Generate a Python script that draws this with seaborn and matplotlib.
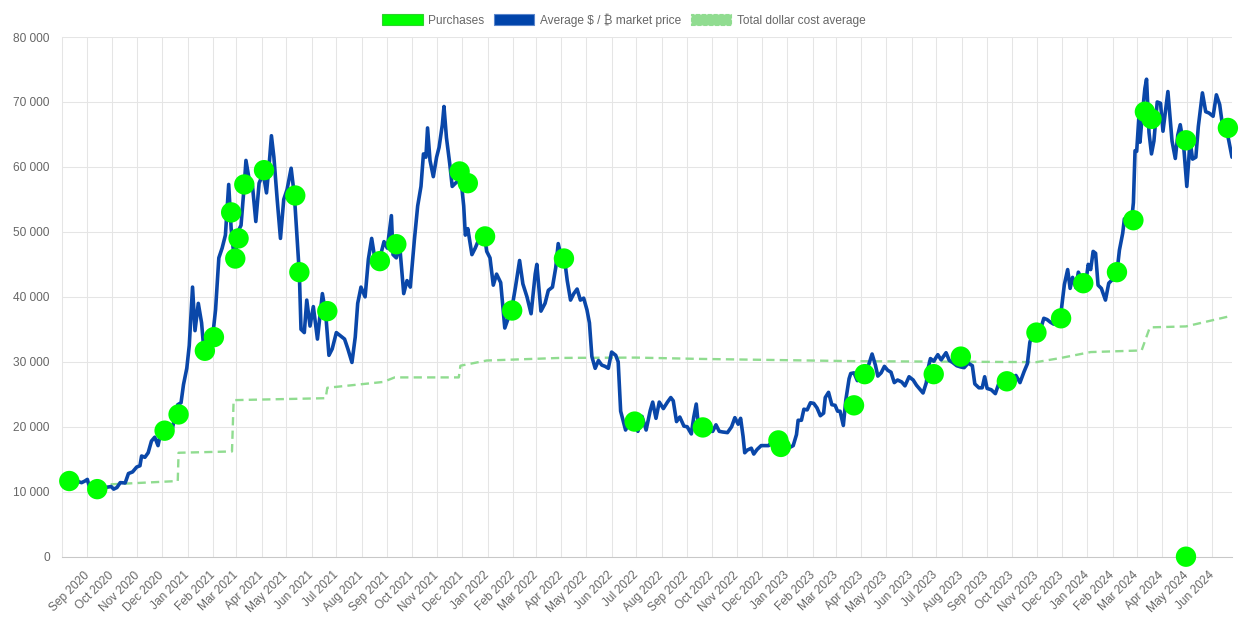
import pandas as pd
import matplotlib
matplotlib.use("Agg")
import matplotlib.pyplot as plt
from matplotlib.patches import Patch
import seaborn as sns

# market price
price_dates = [
    "2020-08-02", "2020-08-06", "2020-08-10", "2020-08-13", "2020-08-17", "2020-08-21", "2020-08-25",
    "2020-08-29", "2020-09-01", "2020-09-04", "2020-09-08", "2020-09-13", "2020-09-17", "2020-09-21",
    "2020-09-25", "2020-09-30", "2020-10-03", "2020-10-07", "2020-10-11", "2020-10-17", "2020-10-21",
    "2020-10-26", "2020-10-31", "2020-11-04", "2020-11-06", "2020-11-10", "2020-11-14", "2020-11-18",
    "2020-11-22", "2020-11-26", "2020-11-30", "2020-12-03", "2020-12-08", "2020-12-12", "2020-12-16",
    "2020-12-20", "2020-12-24", "2020-12-27", "2020-12-31",
    "2021-01-03", "2021-01-07", "2021-01-10", "2021-01-14", "2021-01-18", "2021-01-21", "2021-01-24",
    "2021-01-28", "2021-02-01", "2021-02-04", "2021-02-08", "2021-02-12", "2021-02-16", "2021-02-20",
    "2021-02-23", "2021-02-26", "2021-02-28", "2021-03-03", "2021-03-07", "2021-03-11", "2021-03-13",
    "2021-03-17", "2021-03-21", "2021-03-25", "2021-03-29", "2021-04-03", "2021-04-07", "2021-04-10",
    "2021-04-13", "2021-04-16", "2021-04-20", "2021-04-24", "2021-04-28", "2021-05-02", "2021-05-07",
    "2021-05-11", "2021-05-14", "2021-05-17", "2021-05-19", "2021-05-23", "2021-05-26", "2021-05-30",
    "2021-06-03", "2021-06-08", "2021-06-14", "2021-06-18", "2021-06-22", "2021-06-26", "2021-07-01",
    "2021-07-06", "2021-07-11", "2021-07-15", "2021-07-20", "2021-07-24", "2021-07-27", "2021-07-31",
    "2021-08-05", "2021-08-09", "2021-08-13", "2021-08-18", "2021-08-23", "2021-08-28", "2021-09-01",
    "2021-09-06", "2021-09-08", "2021-09-12", "2021-09-16", "2021-09-21", "2021-09-25", "2021-09-29",
    "2021-10-04", "2021-10-08", "2021-10-12", "2021-10-15", "2021-10-18", "2021-10-20", "2021-10-23",
    "2021-10-27", "2021-10-31", "2021-11-03", "2021-11-07", "2021-11-09", "2021-11-12", "2021-11-16",
    "2021-11-19", "2021-11-23", "2021-11-28", "2021-12-01", "2021-12-03", "2021-12-05", "2021-12-08",
    "2021-12-13", "2021-12-17", "2021-12-22", "2021-12-27", "2021-12-31",
    "2022-01-04", "2022-01-08", "2022-01-12", "2022-01-17", "2022-01-22", "2022-01-27", "2022-01-31",
    "2022-02-04", "2022-02-09", "2022-02-13", "2022-02-18", "2022-02-23", "2022-02-28", "2022-03-02",
    "2022-03-07", "2022-03-12", "2022-03-16", "2022-03-21", "2022-03-25", "2022-03-28", "2022-04-01",
    "2022-04-05", "2022-04-08", "2022-04-12", "2022-04-16", "2022-04-20", "2022-04-24", "2022-04-28",
    "2022-05-02", "2022-05-05", "2022-05-08", "2022-05-12", "2022-05-16", "2022-05-20", "2022-05-24",
    "2022-05-28", "2022-06-01", "2022-06-06", "2022-06-09", "2022-06-12", "2022-06-16", "2022-06-18",
    "2022-06-22", "2022-06-26", "2022-06-29", "2022-07-03", "2022-07-08", "2022-07-13", "2022-07-18",
    "2022-07-21", "2022-07-25", "2022-07-29", "2022-08-03", "2022-08-08", "2022-08-12", "2022-08-15",
    "2022-08-19", "2022-08-23", "2022-08-28", "2022-09-01", "2022-09-06", "2022-09-09", "2022-09-12",
    "2022-09-15", "2022-09-20", "2022-09-24", "2022-09-28", "2022-10-02", "2022-10-06", "2022-10-10",
    "2022-10-14", "2022-10-20", "2022-10-25", "2022-10-29", "2022-11-02", "2022-11-05", "2022-11-08",
    "2022-11-10", "2022-11-13", "2022-11-18", "2022-11-21", "2022-11-25", "2022-11-30", "2022-12-05",
    "2022-12-09", "2022-12-14", "2022-12-17", "2022-12-21", "2022-12-25", "2022-12-29",
    "2023-01-02", "2023-01-08", "2023-01-12", "2023-01-14", "2023-01-18", "2023-01-21", "2023-01-25",
    "2023-01-29", "2023-02-02", "2023-02-06", "2023-02-10", "2023-02-14", "2023-02-16", "2023-02-20",
    "2023-02-24", "2023-02-28", "2023-03-03", "2023-03-06", "2023-03-10", "2023-03-13", "2023-03-17",
    "2023-03-19", "2023-03-23", "2023-03-27", "2023-04-03", "2023-04-10", "2023-04-14", "2023-04-18",
    "2023-04-21", "2023-04-25", "2023-04-29", "2023-05-03", "2023-05-07", "2023-05-11", "2023-05-15",
    "2023-05-20", "2023-05-24", "2023-05-29", "2023-06-03", "2023-06-07", "2023-06-11", "2023-06-15",
    "2023-06-19", "2023-06-21", "2023-06-24", "2023-06-28", "2023-07-03", "2023-07-07", "2023-07-13",
    "2023-07-17", "2023-07-21", "2023-07-26", "2023-07-31", "2023-08-04", "2023-08-09", "2023-08-14",
    "2023-08-17", "2023-08-22", "2023-08-26", "2023-08-29", "2023-09-01", "2023-09-06", "2023-09-11",
    "2023-09-15", "2023-09-19", "2023-09-25", "2023-09-30", "2023-10-02", "2023-10-06", "2023-10-11",
    "2023-10-16", "2023-10-20", "2023-10-23", "2023-10-26", "2023-10-31", "2023-11-05", "2023-11-09",
    "2023-11-13", "2023-11-17", "2023-11-21", "2023-11-24", "2023-11-30", "2023-12-04", "2023-12-08",
    "2023-12-11", "2023-12-14", "2023-12-18", "2023-12-21", "2023-12-26", "2023-12-30",
    "2024-01-02", "2024-01-05", "2024-01-08", "2024-01-11", "2024-01-14", "2024-01-18", "2024-01-23",
    "2024-01-27", "2024-01-31", "2024-02-05", "2024-02-09", "2024-02-13", "2024-02-15", "2024-02-19",
    "2024-02-23", "2024-02-26", "2024-02-28", "2024-03-01", "2024-03-04", "2024-03-05", "2024-03-08",
    "2024-03-11", "2024-03-13", "2024-03-16", "2024-03-19", "2024-03-22", "2024-03-26", "2024-03-30",
    "2024-04-02", "2024-04-05", "2024-04-08", "2024-04-13", "2024-04-17", "2024-04-20", "2024-04-23",
    "2024-04-27", "2024-05-01", "2024-05-05", "2024-05-08", "2024-05-12", "2024-05-15", "2024-05-20",
    "2024-05-24", "2024-05-28", "2024-06-02", "2024-06-06", "2024-06-10", "2024-06-13", "2024-06-17",
    "2024-06-21", "2024-06-25",
]
price_values = [
    11100, 11750, 11800, 11550, 12300, 11550, 11400,
    11650, 11900, 10500, 10150, 10400, 10950, 10450,
    10700, 10800, 10400, 10650, 11400, 11350, 12800,
    13050, 13800, 14000, 15500, 15300, 16000, 17800,
    18400, 17100, 19600, 19200, 18300, 18800, 21300,
    23400, 23700, 26500, 29000,
    32500, 41500, 34800, 39000, 36000, 31500, 33000,
    33500, 34500, 38000, 46000, 47500, 49500, 57300,
    50500, 46800, 45500, 50000, 51000, 57300, 61000,
    58000, 57000, 51600, 57500, 59000, 56000, 60000,
    64800, 61500, 55000, 49000, 55000, 56500, 59800,
    55500, 49500, 43500, 35000, 34500, 39500, 35500,
    38500, 33500, 40500, 37500, 31000, 32000, 34500,
    34000, 33500, 32000, 29900, 33800, 39000, 41500,
    40000, 45800, 49000, 45000, 46000, 48500, 47500,
    52500, 46500, 46000, 48000, 40500, 42500, 41500,
    48800, 54000, 57000, 62000, 61500, 66000, 61000,
    58500, 61500, 63000, 66500, 69300, 64500, 60500,
    57000, 57500, 58000, 56500, 54000, 49500, 50500,
    46500, 47500, 49000, 50500, 47000,
    46000, 41800, 43500, 42200, 35200, 37000, 38500,
    41500, 45600, 42000, 40000, 37400, 43500, 45000,
    37800, 39000, 41000, 41500, 44500, 48200, 46000,
    45500, 42500, 39500, 40500, 41200, 39500, 39800,
    38000, 36000, 30800, 29000, 30200, 29500, 29300,
    29000, 31500, 31000, 30000, 22400, 20500, 19500,
    20500, 21200, 20300, 19300, 21600, 19500, 22500,
    23800, 21300, 23800, 22800, 23800, 24500, 24000,
    20800, 21500, 20100, 20000, 18900, 21500, 23500,
    19700, 19200, 18900, 19300, 19300, 20300, 19300,
    19200, 19100, 20000, 21400, 20400, 21300, 18500,
    16000, 16400, 16700, 15800, 16500, 17100, 17100,
    17100, 17800, 16800, 16800, 16800, 16600,
    16700, 17100, 18800, 21000, 21000, 22700, 22600,
    23700, 23600, 22900, 21700, 22100, 24500, 25300,
    23400, 23300, 22400, 22400, 20200, 24100, 27400,
    28200, 28300, 27100, 28200, 29600, 31200, 29500,
    27800, 28300, 29300, 28700, 28400, 26800, 27200,
    26900, 26300, 27700, 27200, 26400, 25800, 25200,
    26800, 28900, 30500, 30100, 31100, 30300, 31400,
    30200, 29900, 29400, 29200, 29100, 29800, 29400,
    26600, 26000, 26000, 27700, 25900, 25700, 25100,
    26600, 27200, 26300, 27000, 27500, 27900, 26800,
    28500, 29700, 33000, 34200, 34600, 35000, 36700,
    36500, 36100, 35800, 37700, 37700, 41900, 44200,
    41300, 43000, 41400, 43800, 42500, 42100,
    45000, 44200, 47000, 46700, 41800, 41300, 39500,
    42100, 42600, 42700, 47200, 49800, 52000, 51800,
    50700, 54500, 62500, 62400, 68300, 63800, 68300,
    72100, 73500, 65300, 62000, 64000, 70000, 69800,
    65500, 68500, 71600, 64000, 61300, 64900, 66500,
    63500, 57000, 64000, 61200, 61500, 66200, 71400,
    68500, 68300, 67800, 71100, 69600, 66800, 66500,
    64100, 61500,
]

# purchases (green dots)
purchase_dates = [
    "2020-08-10", "2020-09-13", "2020-12-04", "2020-12-21", "2021-01-22", "2021-02-02", "2021-02-23",
    "2021-02-28", "2021-03-04", "2021-03-11", "2021-04-04", "2021-05-12", "2021-05-17", "2021-06-20",
    "2021-08-23", "2021-09-12", "2021-11-28", "2021-12-08", "2021-12-29", "2022-01-31", "2022-04-04",
    "2022-06-29", "2022-09-20", "2022-12-21", "2022-12-24", "2023-03-23", "2023-04-05", "2023-06-28",
    "2023-07-31", "2023-09-25", "2023-10-31", "2023-11-30", "2023-12-27", "2024-02-06", "2024-02-26",
    "2024-03-11", "2024-03-19", "2024-04-30", "2024-04-30", "2024-06-20",
]
purchase_values = [
    11650, 10400, 19400, 21900, 31700, 33800, 53000,
    45900, 49000, 57300, 59500, 55600, 43800, 37800,
    45500, 48100, 59300, 57500, 49300, 37900, 45900,
    20800, 19900, 17900, 16900, 23300, 28100, 28100,
    30800, 27000, 34500, 36700, 42100, 43800, 51800,
    68500, 67400, 64100, 0, 66000,
]

# total dollar cost average (dashed)
dca_dates = [
    "2020-09-13", "2020-10-01", "2020-12-20", "2020-12-21", "2021-02-24", "2021-02-26", "2021-06-18",
    "2021-06-20", "2021-08-27", "2021-09-10", "2021-11-27", "2021-11-29", "2021-12-31", "2022-03-31",
    "2022-06-30", "2022-09-15", "2023-03-23", "2023-10-31", "2023-11-30", "2024-01-05", "2024-03-07",
    "2024-03-17", "2024-04-30", "2024-06-25",
]
dca_values = [
    11000, 11150, 11650, 16000, 16200, 24100, 24400,
    26000, 26900, 27600, 27600, 29400, 30200, 30600,
    30650, 30450, 30100, 29950, 30600, 31500, 31750,
    35300, 35450, 37100,
]

y_ticks = [0, 10000, 20000, 30000, 40000, 50000, 60000, 70000, 80000]
month_ticks = pd.date_range("2020-09-01", "2024-06-01", freq="MS")

price = pd.DataFrame({"date": pd.to_datetime(price_dates), "price": price_values})
buys = pd.DataFrame({"date": pd.to_datetime(purchase_dates), "price": purchase_values})
dca = pd.DataFrame({"date": pd.to_datetime(dca_dates), "price": dca_values})

sns.set_style("white")
plt.rcParams["font.family"] = ["Liberation Sans", "Noto Sans", "DejaVu Sans"]

text_col = "#666666"
grid_col = "#e5e5e5"
blue = "#0a47a9"
green = "#00ff00"
dca_col = "#90dc90"

fig = plt.figure(figsize=(12.4, 6.34), dpi=100)
ax = fig.add_axes([62.3 / 1240, 1 - 556.7 / 634, (1232 - 62.3) / 1240, (556.7 - 37) / 634])

sns.lineplot(data=dca, x="date", y="price", ax=ax, color=dca_col, lw=1.7,
             linestyle=(0, (3.5, 2.2)), zorder=2)
sns.lineplot(data=price, x="date", y="price", ax=ax, color=blue, lw=2.6, zorder=3)
sns.scatterplot(data=buys, x="date", y="price", ax=ax, color=green, s=215,
                edgecolor="none", zorder=4, clip_on=False)

ax.set_ylim(0, 80000)
ax.set_xlim(pd.Timestamp("2020-08-01 12:00"), pd.Timestamp("2024-06-25"))
ax.set_yticks(y_ticks)
ax.set_yticklabels([f"{v:,}".replace(",", " ") for v in y_ticks])
ax.set_xticks(month_ticks)
ax.set_xticklabels([d.strftime("%b %Y") for d in month_ticks], rotation=45,
                   ha="right", va="center", rotation_mode="anchor")
ax.set_xlabel("")
ax.set_ylabel("")

ax.grid(True, color=grid_col, lw=0.75)
ax.set_axisbelow(True)
ax.tick_params(axis="x", length=6, width=0.75, color=grid_col, pad=6,
               labelsize=8.6, labelcolor=text_col)
ax.tick_params(axis="y", length=6, width=0.75, color=grid_col, pad=3,
               labelsize=8.6, labelcolor=text_col)
for side in ["top", "right"]:
    ax.spines[side].set_visible(False)
ax.spines["left"].set_color(grid_col)
ax.spines["left"].set_linewidth(0.75)
ax.spines["bottom"].set_color("#c8c8c8")
ax.spines["bottom"].set_linewidth(0.75)

handles = [
    Patch(facecolor=green, edgecolor="#2fd12f", lw=0.8, label="Purchases"),
    Patch(facecolor="#0044aa", edgecolor="#5b86cc", lw=0.8, label="Average $ / \u20bf market price"),
    Patch(facecolor=dca_col, edgecolor=dca_col, lw=0.8, linestyle="--", label="Total dollar cost average"),
]
fig.legend(handles=handles, loc="center", bbox_to_anchor=(0.503, 1 - 20 / 634), ncol=3,
           frameon=False, fontsize=8.6, labelcolor=text_col, handlelength=3.4,
           handleheight=1.0, handletextpad=0.45, columnspacing=0.8)

fig.savefig("out.png", dpi=100)
